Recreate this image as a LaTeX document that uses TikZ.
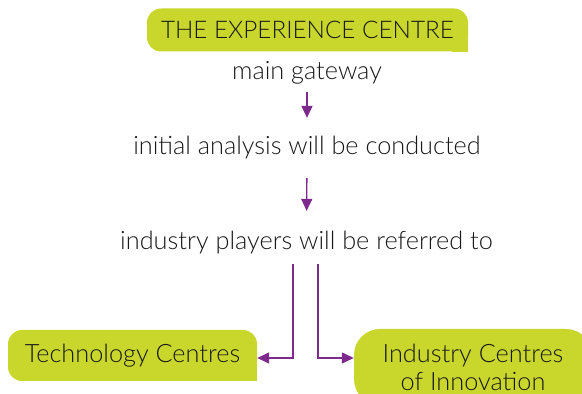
\documentclass[tikz,border=0pt]{standalone}
\usepackage{fontspec}
\setmainfont{Lato Light}
\usetikzlibrary{arrows.meta,positioning,backgrounds}
\definecolor{lime}{HTML}{C9D62C}
\definecolor{plum}{HTML}{7D2A8C}

\begin{document}
\begin{tikzpicture}[x=1pt, y=1pt, font=\fontsize{25.3}{28}\selectfont]
    \tikzstyle{tab} = [fill=lime, rounded corners=14pt, text=black!90, inner sep=0pt, align=center]
    \tikzstyle{caption} = [text=black!90, inner sep=4pt]
    \tikzstyle{arrow} = [plum, line width=1.3pt, -{Triangle[length=12pt,width=11pt]}]

    \clip (0,0) rectangle (582,394);

    \node (centre) [tab, minimum width=321pt, minimum height=43pt, font=\fontsize{24.3}{28}\selectfont] at (307.5,364) {THE EXPERIENCE CENTRE};
    \node (gateway) [caption] at (307,321) {main gateway};
    \node (analysis) [caption] at (307,246) {initial analysis will be conducted};
    \node (players) [caption] at (306.5,151) {industry players will be referred to};
    \node (tech) [tab, minimum width=249pt, minimum height=51pt] at (132.5,38.5) {Technology Centres};
    \node (innov) [tab, rounded corners=26pt, minimum width=238pt, minimum height=76pt] at (473,27) {Industry Centres\\of Innovation};

    % square lower right corners
    \begin{scope}[on background layer]
        \fill [lime] (centre.south east) rectangle +(-16,16);
        \fill [lime] (tech.south east) rectangle +(-16,16);
    \end{scope}

    \draw [arrow, shorten <=3.5pt, shorten >=14.5pt] (gateway.south) -- (analysis.north);
    \draw [arrow, shorten <=14.5pt, shorten >=16.5pt] (analysis.south) -- (players.north);
    \draw [arrow, shorten <=5.5pt] ([xshift=-13.5pt]players.south) |- ([yshift=-2.5pt]tech.east);
    \draw [arrow, shorten <=5.5pt] ([xshift=11.5pt]players.south) |- ([yshift=9pt]innov.west);
\end{tikzpicture}
\end{document}
